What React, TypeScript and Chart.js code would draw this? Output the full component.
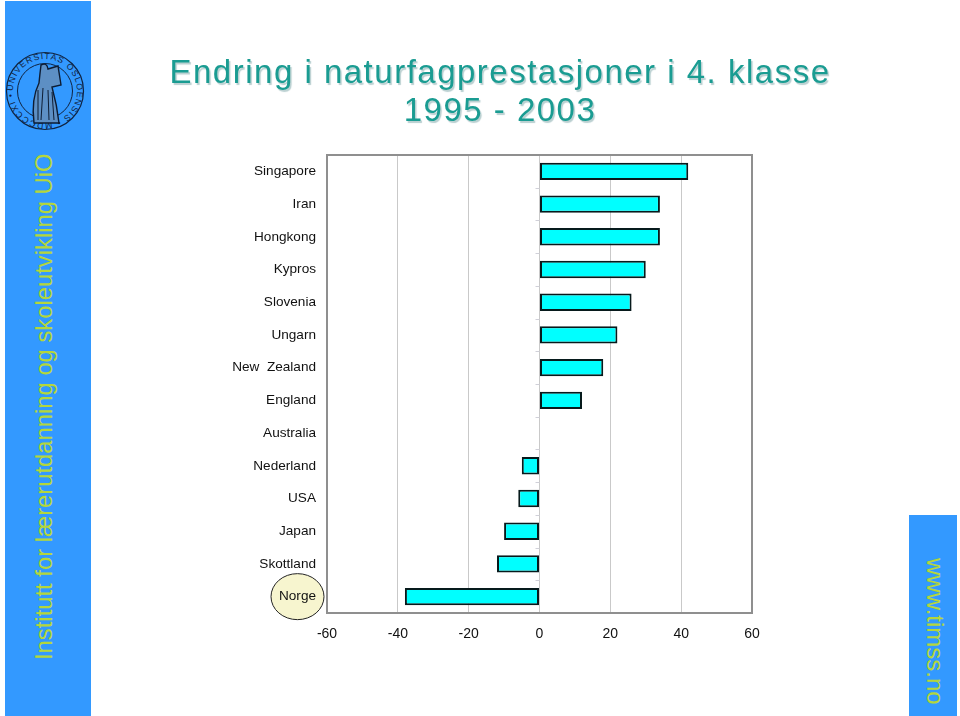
import React, { useEffect, useRef } from "react";
import { Chart, registerables } from "chart.js";

Chart.register(...registerables);

const categories = ["Singapore", "Iran", "Hongkong", "Kypros", "Slovenia", "Ungarn", "New  Zealand", "England", "Australia", "Nederland", "USA", "Japan", "Skottland", "Norge"];
const changes: (number | null)[] = [42, 34, 34, 30, 26, 22, 18, 12, null, -5, -6, -10, -12, -38];
const titleLines = ["Endring i naturfagprestasjoner i 4. klasse", "1995 - 2003"];
const sideText = "Institutt for lærerutdanning og skoleutvikling UiO";
const cornerText = "www.timss.no";
const sealText = "UNIVERSITAS OSLOENSIS • MDCCCXI •";

const FONT = '"Liberation Sans", Arial, sans-serif';

const framePlugin = {
  id: "frame",
  beforeDraw(chart: any) {
    const { ctx } = chart;
    const y = chart.scales.y;
    const py = y.getPixelForValue(categories.length - 1);
    ctx.save();
    ctx.beginPath();
    ctx.ellipse(297.5, py, 26.5, 23, 0, 0, Math.PI * 2);
    ctx.fillStyle = "#f7f5cf";
    ctx.fill();
    ctx.lineWidth = 1;
    ctx.strokeStyle = "#222";
    ctx.stroke();
    ctx.restore();
  },
  beforeDatasetsDraw(chart: any) {
    const { ctx, chartArea: a } = chart;
    const x0 = chart.scales.x.getPixelForValue(0);
    const y = chart.scales.y;
    ctx.save();
    ctx.strokeStyle = "#d0d0d8";
    ctx.lineWidth = 1;
    for (let i = 1; i < categories.length; i++) {
      const py = Math.round(y.getPixelForValue(i - 0.5)) + 0.5;
      ctx.beginPath();
      ctx.moveTo(x0 - 4, py);
      ctx.lineTo(x0, py);
      ctx.stroke();
    }
    ctx.strokeStyle = "#8f8f8f";
    ctx.lineWidth = 2;
    ctx.strokeRect(a.left, a.top, a.right - a.left, a.bottom - a.top);
    ctx.restore();
  },
};

function Seal() {
  return (
    <svg width={80} height={82} viewBox="0 0 80 82" style={{ position: "absolute", left: 5, top: 50 }}>
      <defs>
        <path id="sealPath" d="M40 41 m-32 0 a32 32 0 1 1 64 0 a32 32 0 1 1 -64 0" />
      </defs>
      <circle cx={40} cy={41} r={38.5} fill="none" stroke="#10233f" strokeWidth={1.2} />
      <circle cx={40} cy={41} r={27.5} fill="none" stroke="#10233f" strokeWidth={1} />
      <text fontFamily={FONT} fontSize={8.6} fill="#10233f" textLength={198}>
        <textPath href="#sealPath">{sealText}</textPath>
      </text>
      <path d="M36 15 q6 -3 7 4 l10 -3 3 19 -9 2 q5 18 7 36 l-25 0 q-3 -24 5 -40 q1 -10 2 -18z" fill="#5d8fc4" stroke="#0d1c33" strokeWidth={1.4} />
      <path d="M33 40 l0 30 M38 38 l-2 32 M43 40 l1 30 M47 42 l2 28" stroke="#0d1c33" strokeWidth={1} fill="none" />
    </svg>
  );
}

export default function App() {
  const ref = useRef<HTMLCanvasElement>(null);

  useEffect(() => {
    const chart = new Chart(ref.current!, {
      type: "bar",
      plugins: [framePlugin],
      data: {
        labels: categories,
        datasets: [
          {
            data: changes,
            backgroundColor: "#00ffff",
            borderColor: "#071a1c",
            borderWidth: 2,
            borderSkipped: false,
            categoryPercentage: 1,
            barPercentage: 0.53,
          },
        ],
      },
      options: {
        indexAxis: "y",
        responsive: false,
        animation: false,
        layout: { padding: { left: 200, top: 155, right: 208, bottom: 73 } },
        plugins: { legend: { display: false }, tooltip: { enabled: false } },
        scales: {
          x: {
            min: -60,
            max: 60,
            grid: { color: "#c9c9c9", lineWidth: 1, drawTicks: false },
            border: { display: false },
            ticks: { stepSize: 20, color: "#111", font: { family: FONT, size: 14 }, padding: 13, maxRotation: 0 },
            afterFit: (s: any) => { s.height = 30; },
          },
          y: {
            grid: { display: false, drawTicks: false },
            border: { display: false },
            ticks: { color: "#111", font: { family: FONT, size: 13.6 }, padding: 11, autoSkip: false },
            afterFit: (s: any) => { s.width = 127; },
          },
        },
      },
    } as any);
    return () => chart.destroy();
  }, []);

  return (
    <div style={{ position: "fixed", left: 0, top: 0, width: 960, height: 716, background: "#fff", overflow: "hidden", fontFamily: FONT }}>
      <canvas ref={ref} width={960} height={716} style={{ position: "absolute", left: 0, top: 0, display: "block" }} />
      <div style={{ position: "absolute", left: 5, top: 1, width: 86, height: 715, background: "#3399ff" }} />
      <Seal />
      <div style={{ position: "absolute", left: 31, top: 660, transform: "rotate(-90deg)", transformOrigin: "0 0", whiteSpace: "nowrap", color: "#b4d63c", fontSize: 23.8, lineHeight: "26px" }}>
        {sideText}
      </div>
      <div style={{ position: "absolute", left: 909, top: 515, width: 48, height: 201, background: "#3399ff" }} />
      <div style={{ position: "absolute", left: 949, top: 558, transform: "rotate(90deg)", transformOrigin: "0 0", whiteSpace: "nowrap", color: "#b4d63c", fontSize: 24, lineHeight: "28px" }}>
        {cornerText}
      </div>
      {titleLines.map((t, i) => (
        <div key={t} style={{ position: "absolute", left: 100, width: 800, top: 53 + i * 38, textAlign: "center", whiteSpace: "nowrap", color: "#1a9c92", fontSize: 33, lineHeight: "38px", letterSpacing: 1.5, textShadow: "1.5px 1.5px 1px #b9cfd0" }}>
          {t}
        </div>
      ))}
    </div>
  );
}
